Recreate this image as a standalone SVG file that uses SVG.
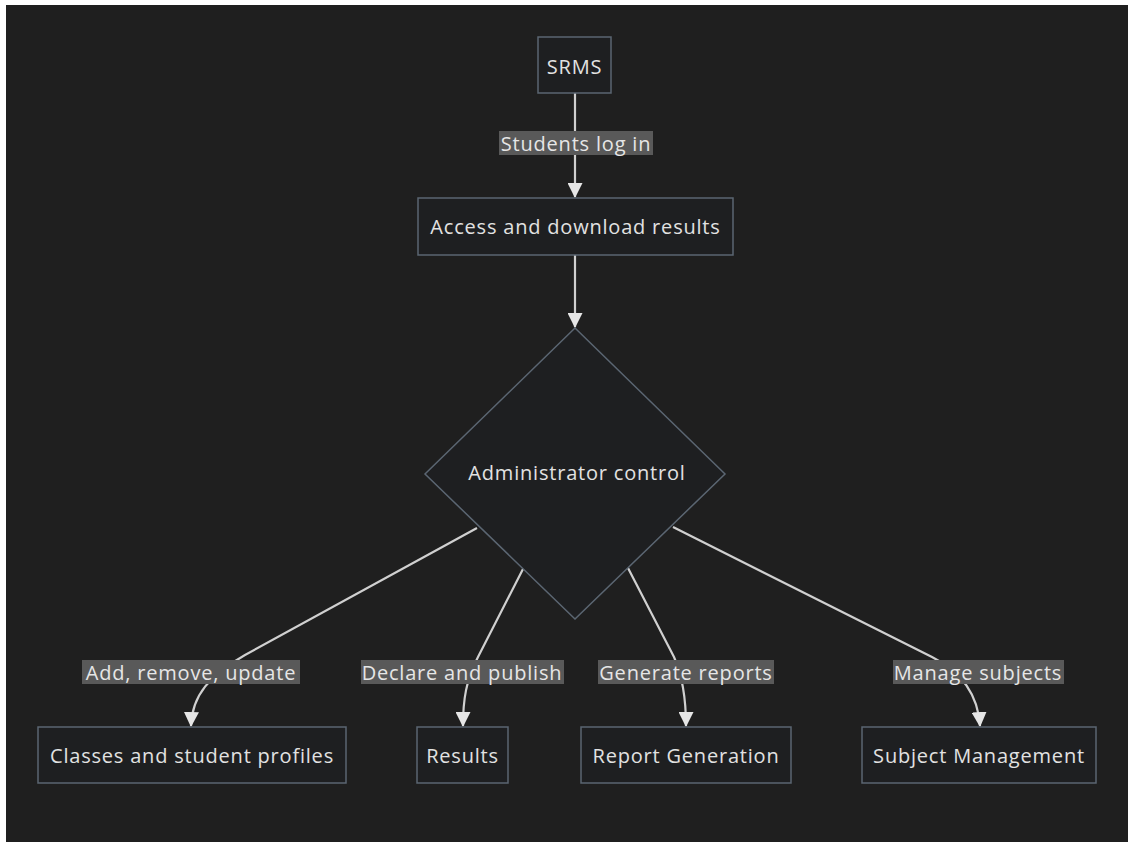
<svg xmlns="http://www.w3.org/2000/svg" width="1128" height="842" viewBox="0 0 1128 842">
<defs>
<style>
.node rect,.node polygon{fill:#1e1f21;stroke:#5b6672;stroke-width:1.5}
.node text{fill:#e2e2e2;font-family:"Open Sans","DejaVu Sans",sans-serif;font-size:20px;letter-spacing:0.8px;text-anchor:middle;dominant-baseline:central}
.edge{fill:none;stroke:#d0d0d0;stroke-width:2.2}
.lbl rect{fill:#595959}
.lbl text{fill:#e6e6e6;font-family:"Open Sans","DejaVu Sans",sans-serif;font-size:20px;letter-spacing:0.8px;text-anchor:middle;dominant-baseline:central}
</style>
<marker id="arrow" viewBox="0 0 14 14" refX="13" refY="7" markerWidth="15" markerHeight="15" markerUnits="userSpaceOnUse" orient="auto">
<path d="M0,0 L14,7 L0,14 z" fill="#e6e6e6"/>
</marker>
</defs>
<rect x="0" y="0" width="1128" height="842" fill="#ffffff"/>
<rect x="6" y="5" width="1122" height="837" fill="#1f1f1f"/>

<g id="connectors">
<path class="edge" d="M575,93 L575,197" marker-end="url(#arrow)"/>
<path class="edge" d="M575,255 L575,327" marker-end="url(#arrow)"/>
<path class="edge" d="M477,528 L245,655 C210,675 192,695 191,726" marker-end="url(#arrow)"/>
<path class="edge" d="M523,569 L478,657 C466,680 463,700 463,726" marker-end="url(#arrow)"/>
<path class="edge" d="M628,568 L674,657 C682,675 686,700 686,726" marker-end="url(#arrow)"/>
<path class="edge" d="M673,527 L932,657 C962,672 978,695 980,726" marker-end="url(#arrow)"/>
</g>

<g id="edge-labels">
<g class="lbl"><rect x="499" y="131" width="154" height="24"/><text x="576" y="143">Students log in</text></g>
<g class="lbl"><rect x="82" y="660" width="218" height="24"/><text x="191" y="672">Add, remove, update</text></g>
<g class="lbl"><rect x="361" y="660" width="203" height="24"/><text x="462" y="672">Declare and publish</text></g>
<g class="lbl"><rect x="598" y="660" width="176" height="24"/><text x="686" y="672">Generate reports</text></g>
<g class="lbl"><rect x="893" y="660" width="171" height="24"/><text x="978" y="672">Manage subjects</text></g>
</g>

<g id="srms" class="node"><rect x="538" y="37" width="73" height="56"/><text x="574.5" y="66">SRMS</text></g>
<g id="access" class="node"><rect x="418" y="198" width="315" height="57"/><text x="575.5" y="226">Access and download results</text></g>
<g id="admin" class="node"><polygon points="575,328 725,474 575,619 425,474"/><text x="577" y="472">Administrator control</text></g>
<g id="classes" class="node"><rect x="38" y="727" width="308" height="56"/><text x="192" y="755">Classes and student profiles</text></g>
<g id="results" class="node"><rect x="417" y="727" width="91" height="56"/><text x="462.5" y="755">Results</text></g>
<g id="report" class="node"><rect x="581" y="727" width="210" height="56"/><text x="686" y="755">Report Generation</text></g>
<g id="subject" class="node"><rect x="862" y="727" width="234" height="56"/><text x="979" y="755">Subject Management</text></g>
</svg>
